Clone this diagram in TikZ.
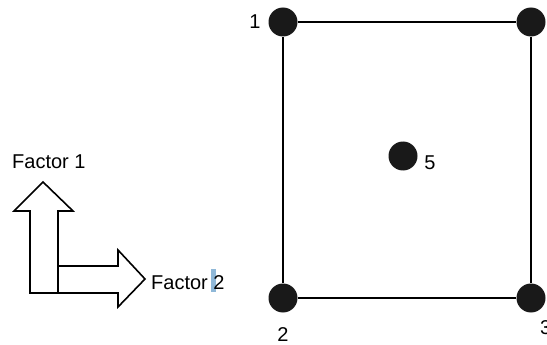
\documentclass[tikz,border=0pt]{standalone}
\usepackage{fontspec}
\setmainfont{Liberation Sans}
\definecolor{hl}{HTML}{8FB8D8}
\begin{document}
\begin{tikzpicture}[x=1pt,y=-1pt,
  dot/.style={circle,fill=black!90,inner sep=0pt,minimum size=29pt},
  lbl/.style={inner sep=0pt,font=\fontsize{20}{22}\selectfont},
  edge/.style={line width=2pt}]
\useasboundingbox (0,0) rectangle (547,345);
\begin{scope}
\clip (0,0) rectangle (547,345);
% highlight artifact
\fill[hl] (211,269) rectangle (216,292);
% L-shaped double arrow
\draw[line width=1.6pt,line join=miter,fill=white]
  (30,293) -- (30,211) -- (14,211) -- (43,182) -- (73,211) -- (58,211)
  -- (58,266) -- (118,266) -- (118,250) -- (145,279) -- (118,307)
  -- (118,293) -- cycle;
\draw[line width=1.6pt] (58,266) -- (58,293);
\node[lbl,anchor=west] (f1) at (12,162) {Factor 1};
\node[lbl,anchor=west] (f2) at (151,283) {Factor 2};
% dots
\node[dot] (p1) at (283,22) {};
\node[dot] (p4) at (531,22) {};
\node[dot] (p2) at (283,298) {};
\node[dot] (p3) at (531,298) {};
\node[dot] (p5) at (403,156) {};
\draw[edge] (p1) -- (p4);
\draw[edge] (p4) -- (p3);
\draw[edge] (p3) -- (p2);
\draw[edge] (p2) -- (p1);
\node[lbl] (l1) at (255,22) {1};
\node[lbl] (l2) at (283,335) {2};
\node[lbl,anchor=west] (l3) at (540,328) {3};
\node[lbl] (l5) at (430,163) {5};
\end{scope}
\end{tikzpicture}
\end{document}
